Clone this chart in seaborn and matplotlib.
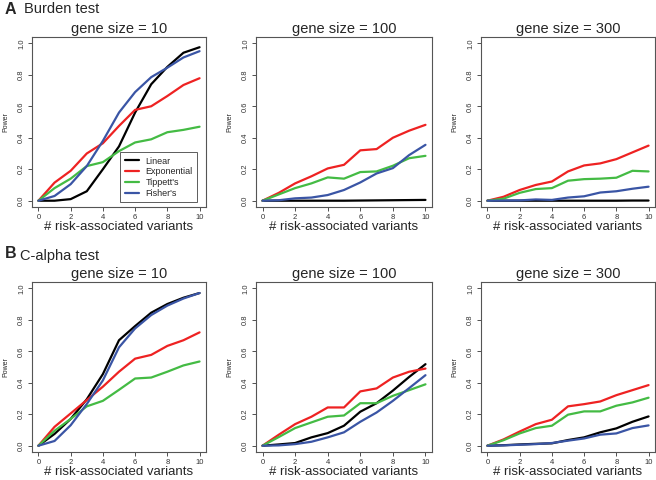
import numpy as np
import pandas as pd
import seaborn as sns
import matplotlib
matplotlib.use("Agg")
import matplotlib.pyplot as plt

# ---- data ----
n_variants = [0, 1, 2, 3, 4, 5, 6, 7, 8, 9, 10]
methods = ["Linear", "Exponential", "Tippett's", "Fisher's"]
gene_sizes = [10, 100, 300]

# Burden test
burden_10 = {
    "Linear":      [0, 0.0, 0.01, 0.06, 0.20, 0.345, 0.56, 0.74, 0.85, 0.94, 0.975],
    "Exponential": [0, 0.115, 0.19, 0.30, 0.365, 0.475, 0.577, 0.60, 0.665, 0.735, 0.778],
    "Tippett's":   [0, 0.08, 0.14, 0.22, 0.245, 0.315, 0.37, 0.39, 0.435, 0.45, 0.47],
    "Fisher's":    [0, 0.03, 0.105, 0.22, 0.38, 0.56, 0.69, 0.785, 0.845, 0.91, 0.95],
}
burden_100 = {
    "Linear":      [0, 0, 0, 0, 0, 0, 0.001, 0.002, 0.003, 0.004, 0.005],
    "Exponential": [0, 0.05, 0.11, 0.155, 0.205, 0.228, 0.32, 0.328, 0.40, 0.445, 0.482],
    "Tippett's":   [0, 0.04, 0.08, 0.11, 0.148, 0.14, 0.182, 0.186, 0.222, 0.27, 0.285],
    "Fisher's":    [0, 0.003, 0.015, 0.02, 0.036, 0.068, 0.116, 0.173, 0.207, 0.29, 0.355],
}
burden_300 = {
    "Linear":      [0, 0, 0, 0, 0, 0, 0, 0, 0, 0.001, 0.001],
    "Exponential": [0, 0.025, 0.068, 0.10, 0.122, 0.186, 0.224, 0.237, 0.264, 0.307, 0.35],
    "Tippett's":   [0, 0.013, 0.05, 0.074, 0.08, 0.127, 0.137, 0.14, 0.146, 0.19, 0.186],
    "Fisher's":    [0, 0.001, 0.002, 0.008, 0.005, 0.02, 0.028, 0.052, 0.06, 0.076, 0.089],
}
# C-alpha test
calpha_10 = {
    "Linear":      [0, 0.075, 0.17, 0.295, 0.455, 0.67, 0.76, 0.845, 0.90, 0.94, 0.97],
    "Exponential": [0, 0.12, 0.205, 0.29, 0.375, 0.47, 0.553, 0.577, 0.634, 0.67, 0.72],
    "Tippett's":   [0, 0.095, 0.17, 0.25, 0.285, 0.355, 0.427, 0.433, 0.47, 0.51, 0.535],
    "Fisher's":    [0, 0.03, 0.13, 0.265, 0.415, 0.625, 0.745, 0.83, 0.89, 0.935, 0.97],
}
calpha_100 = {
    "Linear":      [0, 0.008, 0.017, 0.053, 0.08, 0.127, 0.216, 0.27, 0.35, 0.437, 0.518],
    "Exponential": [0, 0.07, 0.137, 0.184, 0.243, 0.243, 0.345, 0.364, 0.433, 0.47, 0.49],
    "Tippett's":   [0, 0.055, 0.112, 0.148, 0.184, 0.192, 0.27, 0.27, 0.317, 0.353, 0.39],
    "Fisher's":    [0, 0.002, 0.01, 0.025, 0.053, 0.085, 0.152, 0.211, 0.285, 0.366, 0.448],
}
calpha_300 = {
    "Linear":      [0, 0.003, 0.008, 0.012, 0.015, 0.036, 0.053, 0.085, 0.11, 0.152, 0.186],
    "Exponential": [0, 0.04, 0.09, 0.137, 0.165, 0.25, 0.264, 0.281, 0.321, 0.353, 0.385],
    "Tippett's":   [0, 0.035, 0.078, 0.112, 0.127, 0.197, 0.218, 0.218, 0.254, 0.275, 0.305],
    "Fisher's":    [0, 0.002, 0.006, 0.01, 0.017, 0.032, 0.046, 0.07, 0.078, 0.112, 0.129],
}

palette = {"Linear": "#000000", "Exponential": "#ee2222",
           "Tippett's": "#44bb44", "Fisher's": "#3a55a5"}

sns.set_theme(style="ticks")
plt.rcParams["font.family"] = ["Liberation Sans", "DejaVu Sans"]

W, H = 656, 480
fig = plt.figure(figsize=(W / 100, H / 100), dpi=100)

lefts = [32, 256, 481]
rights = [206, 432, 655]
rows = [(37, 207), (282, 452)]
datasets = [[burden_10, burden_100, burden_300], [calpha_10, calpha_100, calpha_300]]


def to_long(d):
    recs = []
    for m in methods:
        for x, y in zip(n_variants, d[m]):
            recs.append({"x": x, "Power": y, "method": m})
    return pd.DataFrame(recs)


for r, (top, bot) in enumerate(rows):
    for c in range(3):
        l, rr = lefts[c], rights[c]
        ax = fig.add_axes([l / W, 1 - bot / H, (rr - l) / W, (bot - top) / H])
        df = to_long(datasets[r][c])
        sns.lineplot(data=df, x="x", y="Power", hue="method", hue_order=methods,
                     palette=palette, linewidth=1.6, ax=ax,
                     legend=(r == 0 and c == 0), errorbar=None)
        ax.set_xlim(-0.4, 10.4)
        ax.set_ylim(-0.04, 1.04)
        ax.set_xticks([0, 2, 4, 6, 8, 10])
        ax.set_yticks([0.0, 0.2, 0.4, 0.6, 0.8, 1.0])
        ax.set_yticklabels(["0.0", "0.2", "0.4", "0.6", "0.8", "1.0"],
                           rotation=90, va="center")
        ax.tick_params(axis="both", labelsize=5.5, length=3, width=0.6,
                       colors="#333333", pad=2)
        for s in ax.spines.values():
            s.set_visible(True)
            s.set_linewidth(0.8)
            s.set_color("#555555")
        ax.set_xlabel("# risk-associated variants", fontsize=9.5, labelpad=0)
        ax.set_ylabel("Power", fontsize=5, labelpad=6)
        ax.set_title(f"gene size = {gene_sizes[c]}", fontsize=10.5, pad=3)
        if r == 0 and c == 0:
            leg = ax.legend(loc="lower right", fontsize=6.5, frameon=True,
                            fancybox=False, edgecolor="#333333",
                            handlelength=1.6, handletextpad=0.7,
                            borderpad=0.5, labelspacing=0.2,
                            bbox_to_anchor=(0.975, 0.0))
            leg.get_frame().set_linewidth(0.7)

fig.text(5 / W, 1 - 9 / H, "A", fontsize=11.5, fontweight="bold", va="center")
fig.text(24 / W, 1 - 9 / H, "Burden test", fontsize=10.5, va="center")
fig.text(5 / W, 1 - 254 / H, "B", fontsize=11.5, fontweight="bold", va="center")
fig.text(20 / W, 1 - 256 / H, "C-alpha test", fontsize=10.5, va="center")

fig.savefig("out.png", dpi=100)
